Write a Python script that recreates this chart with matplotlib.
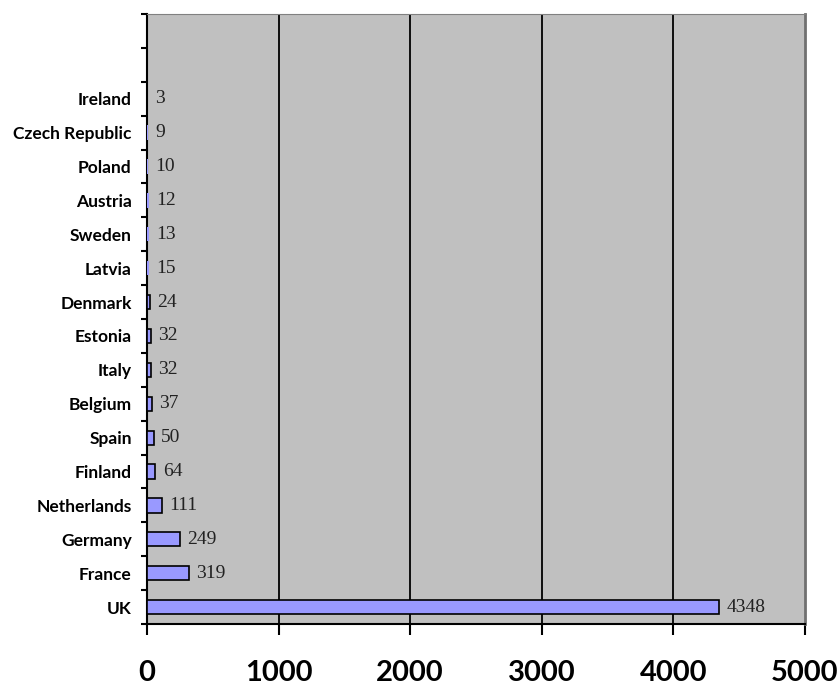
import matplotlib
matplotlib.use("Agg")
import matplotlib.pyplot as plt
import numpy as np

countries = ["UK", "France", "Germany", "Netherlands", "Finland", "Spain", "Belgium",
             "Italy", "Estonia", "Denmark", "Latvia", "Sweden", "Austria", "Poland",
             "Czech Republic", "Ireland"]
values = [4348, 319, 249, 111, 64, 50, 37, 32, 32, 24, 15, 13, 12, 10, 9, 3]
xticks = [0, 1000, 2000, 3000, 4000, 5000]

fig = plt.figure(figsize=(8.38, 6.89), dpi=100)
ax = fig.add_axes([0.1754, 0.0943, 0.785, 0.8854])
ax.set_facecolor("#c0c0c0")

ypos = np.arange(len(countries))
# very small bars are not drawn with an outline (like the original)
edges = ["black" if v >= 20 else "none" for v in values]
ax.barh(ypos, values, height=0.42, color="#9999ff", edgecolor=edges, linewidth=1.2, zorder=3)
for y, v in zip(ypos, values):
    ax.text(v + 55, y, str(v), va="center", ha="left", fontsize=14,
            family="Liberation Serif", color="#222222", zorder=4)

ax.set_xlim(0, 5000)
ax.set_ylim(-0.5, 17.5)
ax.set_xticks(xticks)
ax.set_xticklabels([str(t) for t in xticks], fontsize=21, fontweight="bold", family="Lato")
ax.set_yticks(ypos)
ax.set_yticklabels(countries, fontsize=12.5, fontweight="bold", family="Lato")
ax.set_yticks(np.arange(-0.5, 18, 1), minor=True)
ax.tick_params(axis="y", which="major", length=0, pad=11)
ax.tick_params(axis="y", which="minor", length=4, width=1.5, direction="out")
ax.tick_params(axis="x", which="major", length=8, width=1.5, direction="out", pad=18)

for g in xticks[1:-1]:
    ax.axvline(g, color="black", linewidth=1.3, zorder=2)

ax.spines["left"].set_linewidth(1.5)
ax.spines["bottom"].set_linewidth(1.5)
ax.spines["top"].set_color("#808080")
ax.spines["right"].set_color("#707070")
ax.spines["right"].set_linewidth(2)

fig.savefig("out.png", dpi=100)
